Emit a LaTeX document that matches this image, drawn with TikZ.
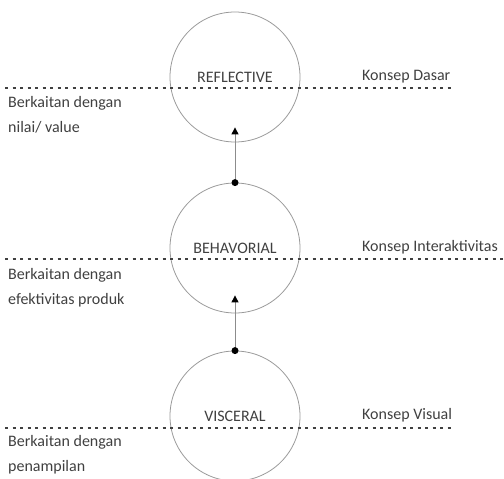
\documentclass[tikz,border=0pt]{standalone}
\usepackage{fontspec}
\setmainfont{Carlito}
\usetikzlibrary{arrows.meta}
\begin{document}
\begin{tikzpicture}[x=1pt,y=-1pt,
  lvl/.style={circle, draw=black!40, line width=0.8pt, minimum size=130pt, inner sep=0pt, text=black!75, font=\fontsize{16}{19}\selectfont},
  sepline/.style={draw=black!75, line width=1.4pt, dash pattern=on 3pt off 4.5pt},
  lbl/.style={text=black!75, font=\fontsize{16}{25}\selectfont, inner sep=0pt, align=left},
  conn/.style={draw=black!45, line width=1pt, -{Triangle[length=7pt,width=7pt,color=black]}},
  dotmark/.style={circle, fill=black, inner sep=0pt, minimum size=7pt}
]
\useasboundingbox (0,0) rectangle (504,479);
% circles
\node[lvl] (c1) at (235,77) {REFLECTIVE};
\node[lvl] (c2) at (235,248) {BEHAVORIAL};
\node[lvl] (c3) at (235,416) {VISCERAL};
% dashed separators
\coordinate (s1a) at (5,88);  \coordinate (s1b) at (455,88);
\coordinate (s2a) at (5,259); \coordinate (s2b) at (504,259);
\coordinate (s3a) at (5,428); \coordinate (s3b) at (455,428);
\draw[sepline] (s1a) -- (s1b);
\draw[sepline] (s2a) -- (s2b);
\draw[sepline] (s3a) -- (s3b);
% connectors
\coordinate (t1) at ([yshift=15pt]c1.south);
\coordinate (t2) at ([yshift=18pt]c2.south);
\draw[conn] (c2.north) -- (t1);
\draw[conn] (c3.north) -- (t2);
\node[dotmark] (d1) at (c2.north) {};
\node[dotmark] (d2) at (c3.north) {};
% right labels
\node[lbl, anchor=west] (r1) at (362,77) {Konsep Dasar};
\node[lbl, anchor=west] (r2) at (362,247) {Konsep Interaktivitas};
\node[lbl, anchor=west] (r3) at (362,415) {Konsep Visual};
% left labels
\node[lbl, anchor=west] (l1) at (8,115) {Berkaitan dengan\\nilai/ value};
\node[lbl, anchor=west] (l2) at (8,288) {Berkaitan dengan\\efektivitas produk};
\node[lbl, anchor=west] (l3) at (8,455) {Berkaitan dengan\\penampilan};
\end{tikzpicture}
\end{document}
